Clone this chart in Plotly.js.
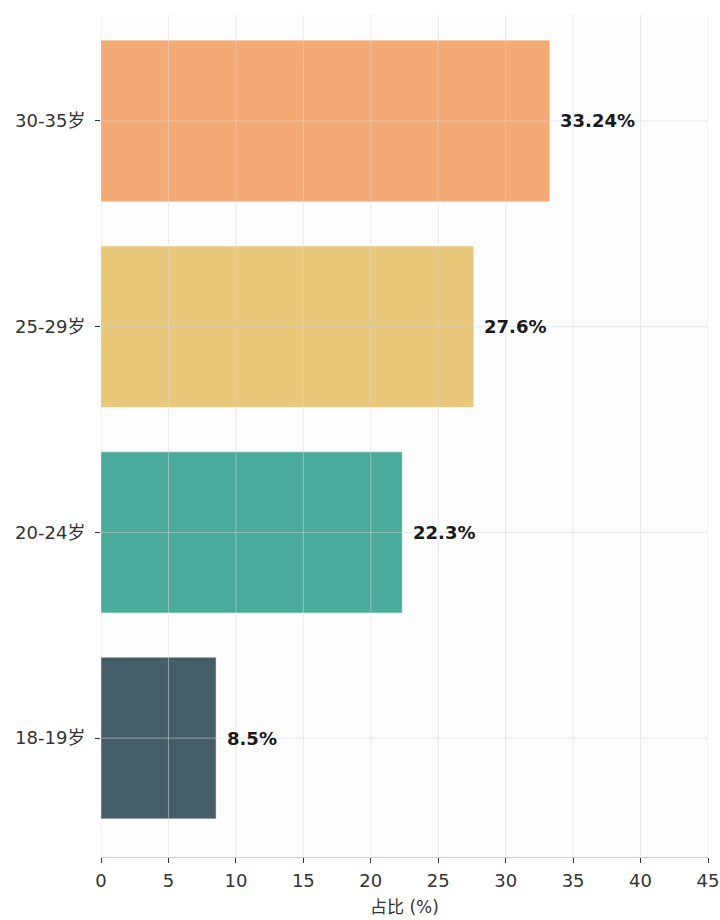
<!DOCTYPE html>
<html><head><meta charset="utf-8">
<script src="https://cdn.plot.ly/plotly-3.0.1.min.js"></script>
<style>body{margin:0;background:#fff}#c{width:720px;height:920px}</style>
</head><body><div id="c"></div>
<script>
const categories = ['18-19岁', '20-24岁', '25-29岁', '30-35岁'];
const values = [8.5, 22.3, 27.6, 33.24];
const labels = ['8.5%', '22.3%', '27.6%', '33.24%'];
const colors = ['#455d66', '#4aab9b', '#e9c77b', '#f4aa74'];
const xTicks = [0, 5, 10, 15, 20, 25, 30, 35, 40, 45];

const font = 'DejaVu Sans, "Noto Sans CJK SC", sans-serif';
const gridColor = 'rgba(215,215,215,0.55)';

const shapes = [];
xTicks.forEach(v => shapes.push({type:'line', xref:'x', yref:'paper', x0:v, x1:v, y0:0, y1:1, layer:'above', line:{color:gridColor, width:1}}));
categories.forEach(c => shapes.push({type:'line', xref:'paper', yref:'y', x0:0, x1:1, y0:c, y1:c, layer:'above', line:{color:gridColor, width:1}}));

const annotations = values.map((v, i) => ({
  x: v, y: categories[i], xref:'x', yref:'y', text: labels[i], showarrow:false,
  xanchor:'left', xshift: 9, font:{family:font, size:18, color:'#1a1a1a', weight:'bold'}
}));

Plotly.newPlot('c', [{
  type:'bar', orientation:'h', y: categories, x: values,
  marker:{color: colors, line:{color: colors, width:0.5}}, width:0.78,
  hoverinfo:'none'
}], {
  width:720, height:920,
  margin:{l:101, r:12, t:15, b:63},
  paper_bgcolor:'#ffffff', plot_bgcolor:'#fdfdfd',
  showlegend:false,
  font:{family:font, size:18, color:'#333'},
  xaxis:{range:[0,45], tickvals:xTicks, showgrid:false, zeroline:false,
    showline:true, linecolor:'#d0d0d0', linewidth:1,
    ticks:'outside', ticklen:5, tickcolor:'#333', tickwidth:1, ticklabelstandoff:2,
    tickfont:{family:font, size:18, color:'#333'},
    title:{text:'占比 (%)', font:{family:font, size:17, color:'#333'}, standoff:11}},
  yaxis:{type:'category', categoryorder:'array', categoryarray:categories,
    range:[-0.578, 3.515], showgrid:false, zeroline:false, showline:false,
    ticks:'outside', ticklen:5, tickcolor:'#333', tickwidth:1, ticklabelstandoff:6,
    tickfont:{family:font, size:18, color:'#333'}},
  shapes: shapes,
  annotations: annotations
}, {staticPlot:true});
</script></body></html>
